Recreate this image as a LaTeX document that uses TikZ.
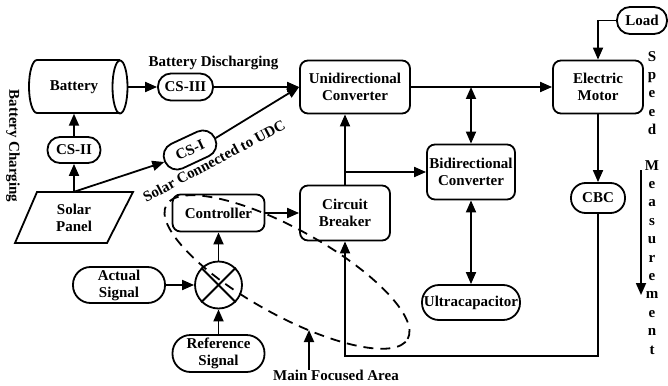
\documentclass[tikz,border=0pt]{standalone}
\usepackage{fontspec}
\setmainfont{Liberation Serif}
\usetikzlibrary{arrows.meta,shapes.geometric,calc}
\begin{document}
\begin{tikzpicture}[x=1pt,y=-1pt,
  every node/.style={font=\fontsize{15}{17}\selectfont\bfseries, inner sep=0pt, align=center},
  box/.style={draw, line width=1.8pt, rounded corners=8pt},
  pill/.style={draw, line width=1.8pt},
  arr/.style={line width=1.8pt, -{Triangle[length=12pt,width=10pt]}},
  darr/.style={line width=1.8pt, {Triangle[length=12pt,width=10pt]}-{Triangle[length=12pt,width=10pt]}},
  ln/.style={line width=1.8pt},
  focus/.style={line width=1.8pt, dash pattern=on 10pt off 7pt}]
\useasboundingbox (0,0) rectangle (668,385);

% battery (drawn cylinder)
\node[minimum width=98pt, minimum height=53pt] (bat) at (78,87) {\hspace*{-8pt}Battery};
\draw[ln] (120,60) -- (37,60) arc[start angle=90, end angle=270, x radius=8pt, y radius=26.5pt] -- (120,113);
\draw[ln] (120,87) ellipse [x radius=7.5pt, y radius=26.5pt];

% nodes
\node[pill, minimum width=55pt, minimum height=27pt, rounded corners=13pt] (cs3) at (185.5,87) {CS-III};
\node[box, minimum width=110pt, minimum height=53pt] (udc) at (355,87) {Unidirectional\\Converter};
\node[box, minimum width=90pt, minimum height=53pt] (motor) at (598,87) {Electric\\Motor};
\node[pill, minimum width=50pt, minimum height=27pt, rounded corners=13pt] (load) at (642,20.5) {Load};
\node[box, minimum width=88pt, minimum height=55pt] (bc) at (471,172) {Bidirectional\\Converter};
\node[box, minimum width=90pt, minimum height=55pt] (cb) at (345,213) {Circuit\\Breaker};
\node[box, minimum width=92pt, minimum height=37pt] (ctrl) at (218.5,213) {Controller};
\node[draw, circle, line width=1.8pt, minimum size=47pt] (mult) at (218.5,285) {};
\node[pill, minimum width=92pt, minimum height=36pt, rounded corners=17.5pt] (actual) at (119,285) {Actual\\Signal};
\node[pill, minimum width=92pt, minimum height=37pt, rounded corners=18pt] (ref) at (218.5,353.5) {Reference\\Signal};
\node[pill, minimum width=98pt, minimum height=35pt, rounded corners=17pt] (uc) at (471,302.5) {Ultracapacitor};
\node[pill, minimum width=54pt, minimum height=30pt, rounded corners=14.5pt] (cbc) at (598,198) {CBC};
\node[pill, minimum width=53pt, minimum height=26pt, rounded corners=12.5pt] (cs2) at (74,150) {CS-II};
\node[pill, minimum width=55pt, minimum height=27pt, rounded corners=13pt, rotate=25] (cs1) at (190,150) {CS-I};
\draw[ln, line join=miter] (37,192) -- (133,192) -- (107,243) -- (15,243) -- cycle;
\node[minimum height=51pt] (solar) at (74,217.5) {Solar\\Panel};

% labels
\node (lbd) at (213.5,63) {Battery Discharging};
\node[rotate=28] (lsc) at (214,161) {Solar Connected to UDC};
\node[rotate=-90] (lbc) at (13,146) {Battery Charging};
\foreach \ch [count=\i from 0] in {S,p,e,e,d}
  \node[anchor=base] (sp\i) at (652,{62+18*\i}) {\ch};
\foreach \ch [count=\i from 0] in {M,e,a,s,u,r,e,m,e,n,t}
  \node[anchor=base] (ms\i) at (652,{170+18.4*\i}) {\ch};
\node (mfa) at (336,375) {Main Focused Area};

% coordinates
\coordinate (j1) at (345,172);
\coordinate (j2) at (471,87);
\coordinate (fb) at (345,356);
\coordinate (mfatip) at (309,330);
\coordinate (ma1) at (641,170);
\coordinate (ma2) at (641,295);

% connectors
\draw[arr] (bat.east) -- (cs3.west);
\draw[arr] (cs3.east) -- (udc.west);
\draw[arr] (cs2.north) -- (cs2.north |- bat.south);
\draw[arr] (solar.north) -- (cs2.south);
\draw[arr] (solar.north) -- (cs1.west);
\draw[arr] (cs1.east) -- (udc.west);
\draw[arr] (udc.east) -- (motor.west);
\draw[darr] (j2) -- (bc.north);
\draw[arr] (load.west) -| (motor.north);
\draw[arr] (motor.south) -- (cbc.north);
\draw[arr] (cbc.south) |- (fb) -- (cb.south);
\draw[arr] (cb.north) -- (cb.north |- udc.south);
\draw[arr] (j1) -- (bc.west);
\draw[darr] (bc.south) -- (uc.north);
\draw[arr] (ctrl.east) -- (cb.west);
\draw[arr] (mult.north) -- (ctrl.south);
\draw[arr] (actual.east) -- (mult.west);
\draw[arr] (ref.north) -- (mult.south);
\draw[ln] (mult.north west) -- (mult.south east);
\draw[ln] (mult.north east) -- (mult.south west);
\draw[arr] (mfa.north -| mfatip) -- (mfatip);
\draw[arr] (ma1) -- (ma2);

% focus area
\draw[focus, rotate around={-29:(287,272)}] (287,272) ellipse [x radius=138pt, y radius=43pt];
\end{tikzpicture}
\end{document}
